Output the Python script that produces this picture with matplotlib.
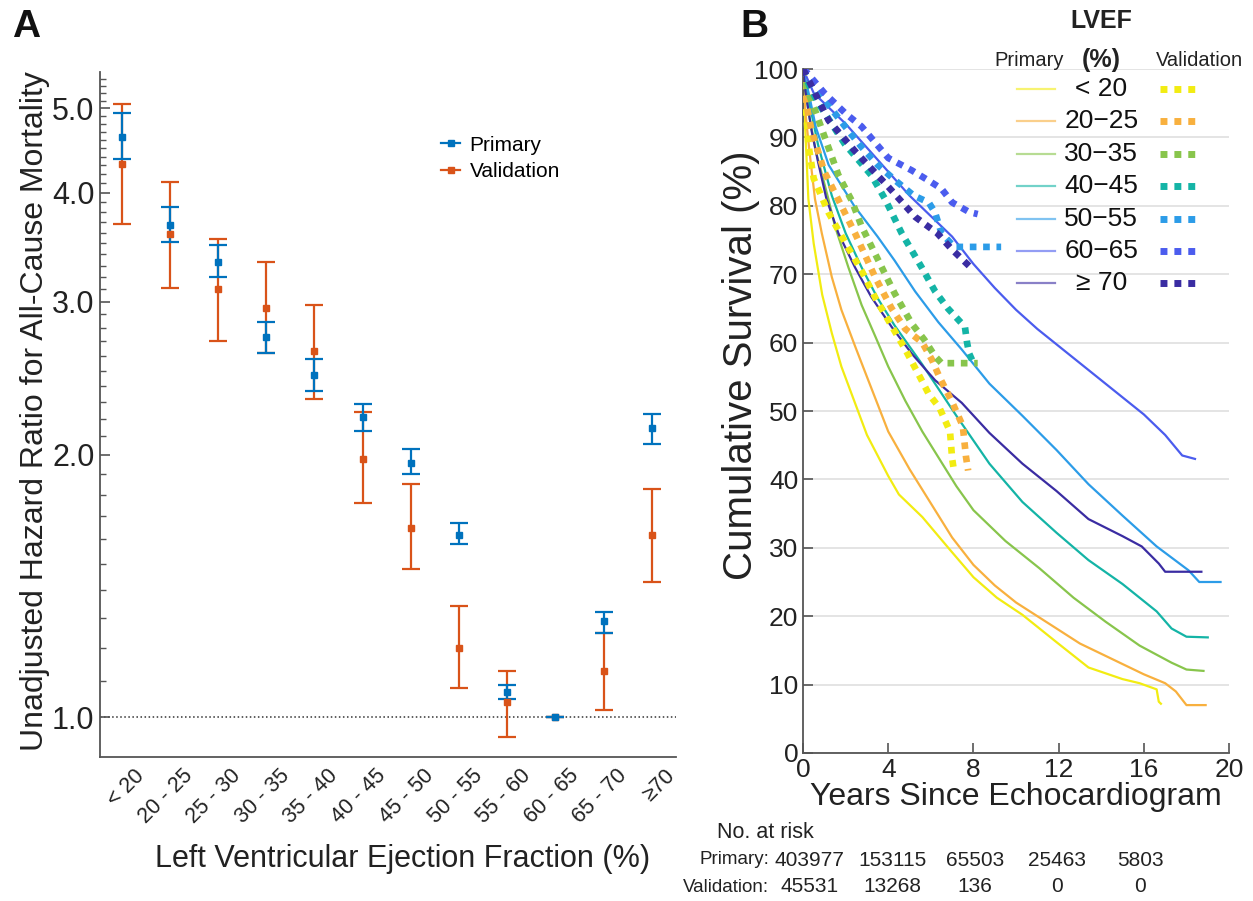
import numpy as np
import matplotlib
matplotlib.use('Agg')
import matplotlib.pyplot as plt
from matplotlib.lines import Line2D
from matplotlib.ticker import NullFormatter, FixedLocator
import matplotlib.transforms as mtransforms

plt.rcParams['font.family'] = ['Liberation Sans', 'DejaVu Sans']

# ---- Panel A data: unadjusted hazard ratios by LVEF group ----
lvef_cats = ['< 20', '20 - 25', '25 - 30', '30 - 35', '35 - 40', '40 - 45',
             '45 - 50', '50 - 55', '55 - 60', '60 - 65', '65 - 70', '\u226570']
prim_hr = [4.64, 3.67, 3.33, 2.73, 2.47, 2.21, 1.96, 1.62, 1.07, 1.00, 1.29, 2.15]
prim_lo = [4.37, 3.51, 3.20, 2.62, 2.37, 2.13, 1.90, 1.58, 1.05, 1.00, 1.25, 2.06]
prim_hi = [4.94, 3.85, 3.48, 2.84, 2.58, 2.29, 2.03, 1.67, 1.09, 1.00, 1.32, 2.23]
val_hr = [4.31, 3.59, 3.10, 2.95, 2.63, 1.98, 1.65, 1.20, 1.04, 1.00, 1.13, 1.62]
val_lo = [3.68, 3.11, 2.70, 2.62, 2.32, 1.76, 1.48, 1.08, 0.95, 1.00, 1.02, 1.43]
val_hi = [5.06, 4.12, 3.54, 3.33, 2.97, 2.24, 1.85, 1.34, 1.13, 1.00, 1.25, 1.83]

# ---- Panel B data: Kaplan-Meier survival (%) ----
groups = ['< 20', '20\u221225', '30\u221235', '40\u221245', '50\u221255', '60\u221265', '\u2265 70']
colors = ['#F2EC12', '#F8B03E', '#88C54C', '#14B4A6', '#2C9CE8', '#4B5CEE', '#3A2CA2']

# primary cohort
t_p_lt20 = [0, 0.05, 0.15, 0.25, 0.5, 0.9, 1.35, 1.8, 2.4, 3, 4, 4.5, 5.6, 6.9, 8, 9.1, 10.3, 11.9, 13.4, 15, 15.8, 16.6, 16.7, 16.8]
s_p_lt20 = [100, 95, 88, 81, 74.5, 67, 61.4, 56.5, 51.5, 46.5, 40.5, 37.8, 34.5, 29.7, 25.7, 22.7, 20.2, 16.2, 12.5, 10.8, 10.2, 9.3, 7.5, 7.2]
t_p_20 = [0, 0.1, 0.3, 0.56, 0.88, 1.35, 1.8, 2.44, 3, 3.5, 4, 5, 6, 7, 8, 9, 10, 11, 12, 13, 14, 15, 16, 17, 17.5, 18, 18.9]
s_p_20 = [100, 94, 88, 81, 76, 69.6, 64.8, 59.5, 55, 51, 47, 41.5, 36.5, 31.5, 27.5, 24.5, 22, 20, 18, 16, 14.5, 13, 11.5, 10.2, 9, 7, 7]
t_p_30 = [0, 0.1, 0.3, 0.6, 1.19, 1.5, 2.13, 2.75, 3.38, 4, 4.8, 5.6, 6.4, 7.2, 8, 9.5, 11.1, 12.7, 14.2, 15.8, 17.3, 18, 18.8]
s_p_30 = [100, 97, 93, 88, 81, 77, 71, 65.5, 61, 56.5, 51.5, 47, 43, 39, 35.5, 31, 27, 22.7, 19.2, 15.7, 13.2, 12.2, 12]
t_p_40 = [0, 0.3, 0.7, 1.35, 2, 2.75, 3.5, 4.3, 5.6, 7.2, 8.75, 10.3, 11.9, 13.4, 15, 16.6, 17.3, 18, 19]
s_p_40 = [100, 95, 89, 81.5, 76, 71, 66.5, 62.5, 56.8, 49.3, 42.3, 36.7, 32.2, 28.2, 24.7, 20.7, 18.2, 17, 16.9]
t_p_50 = [0, 0.3, 0.6, 1.2, 2.4, 3.5, 4.3, 5.26, 6.35, 7.45, 8.75, 10.3, 11.9, 13.4, 15, 16.6, 18.1, 18.6, 19.6]
s_p_50 = [100, 96, 91.5, 86, 80, 75.5, 72, 67.5, 63, 59, 54, 49.3, 44.3, 39.3, 34.7, 30.2, 26.7, 25, 25]
t_p_60 = [0, 0.5, 1, 2, 3, 4, 5, 6, 7, 8, 9, 10, 11, 12, 13, 14, 15, 16, 17, 17.8, 18.4]
s_p_60 = [100, 96.5, 95, 92, 88.5, 85, 81.5, 78.5, 75.5, 71.5, 68, 64.8, 62, 59.5, 57, 54.5, 52, 49.5, 46.5, 43.5, 43]
t_p_70 = [0, 0.1, 0.4, 0.7, 1.1, 1.66, 2.44, 3.2, 4.16, 5.1, 6.2, 7.45, 8.75, 10.3, 11.9, 13.4, 15, 15.9, 16.7, 17, 18.7]
s_p_70 = [100, 97, 91, 86.5, 81, 76, 71, 66.7, 62.3, 58.4, 54.5, 51.2, 46.8, 42.3, 38.3, 34.2, 31.7, 30.2, 27.7, 26.5, 26.5]

# validation cohort
t_v_lt20 = [0, 0.1, 0.25, 0.5, 1.2, 2, 2.75, 3.4, 4, 4.8, 5.4, 5.9, 6.4, 6.9, 7, 7.1]
s_v_lt20 = [100, 96, 89, 84, 79, 74.5, 70.5, 66.5, 63.3, 59, 55.5, 52.5, 50.5, 47, 43, 41]
t_v_20 = [0, 0.15, 0.4, 1, 1.8, 2.44, 3.38, 4.16, 4.8, 5.6, 6.05, 6.4, 7, 7.5, 7.65, 7.75]
s_v_20 = [100, 95, 91, 85, 80, 76, 69.6, 65, 62, 60, 57.5, 55, 51.3, 47.8, 43.3, 41.3]
t_v_30 = [0, 0.2, 0.56, 1.66, 2.28, 2.75, 3.54, 4.3, 5.1, 5.7, 6.2, 6.5, 8.2]
s_v_30 = [100, 97, 94, 84.5, 80.8, 77, 72, 67.2, 62.8, 60.4, 58, 57, 57]
t_v_40 = [0, 0.3, 0.72, 1.97, 3.2, 3.85, 4.63, 5.57, 6.2, 6.8, 7.6, 7.7, 7.8, 8]
s_v_40 = [100, 97.5, 95, 89, 84.5, 81, 76, 71, 67.5, 65, 62.3, 60, 58.4, 57]
t_v_50 = [0, 0.25, 1, 2, 2.75, 3.5, 4.3, 5.2, 5.9, 6.2, 6.5, 7.1, 9.3]
s_v_50 = [100, 98.5, 95.5, 91.5, 88.6, 86, 83.8, 81.5, 80.5, 79, 76, 74, 74]
t_v_60 = [0, 0.1, 1, 2, 2.75, 4, 5.1, 6, 6.5, 7, 7.8, 8.2]
s_v_60 = [100, 99.8, 96.5, 93.5, 91.6, 87, 85.2, 83.5, 82.5, 80.5, 79.1, 78.8]
t_v_70 = [0, 0.1, 1.2, 2.44, 4, 5.26, 6.3, 7, 8]
s_v_70 = [100, 99.4, 92.5, 88, 82.8, 78.4, 76, 73.6, 70.6]

prim_t = [t_p_lt20, t_p_20, t_p_30, t_p_40, t_p_50, t_p_60, t_p_70]
prim_s = [s_p_lt20, s_p_20, s_p_30, s_p_40, s_p_50, s_p_60, s_p_70]
val_t = [t_v_lt20, t_v_20, t_v_30, t_v_40, t_v_50, t_v_60, t_v_70]
val_s = [s_v_lt20, s_v_20, s_v_30, s_v_40, s_v_50, s_v_60, s_v_70]

risk_years = [0, 4, 8, 12, 16]
risk_primary = ['403977', '153115', '65503', '25463', '5803']
risk_validation = ['45531', '13268', '136', '0', '0']

BLUE = '#0072BD'
ORANGE = '#D95319'
SPINE = '#555555'
TXT = '#222222'

fig = plt.figure(figsize=(12.53, 9.01), dpi=100)

# ================= Panel A =================
axA = fig.add_axes([0.0798, 0.1598, 0.4597, 0.760])
x = np.arange(1, len(lvef_cats) + 1)

def draw_err(ax, hr, lo, hi, color):
    hr = np.array(hr)
    err = [hr - np.array(lo), np.array(hi) - hr]
    ax.errorbar(x, hr, yerr=err, fmt='s', ms=4.5, color=color, ecolor=color,
                elinewidth=1.6, capsize=6.5, capthick=1.6)

axA.axhline(1.0, color='#333333', ls=':', lw=1.1, zorder=0)
draw_err(axA, val_hr, val_lo, val_hi, ORANGE)
draw_err(axA, prim_hr, prim_lo, prim_hi, BLUE)

axA.set_yscale('log')
axA.set_ylim(0.9, 5.5)
axA.set_xlim(0.55, 12.5)
axA.yaxis.set_major_locator(FixedLocator([1, 2, 3, 4, 5]))
axA.set_yticklabels(['1.0', '2.0', '3.0', '4.0', '5.0'])
minor = [v / 10 for v in range(11, 55) if v % 10 != 0]
axA.yaxis.set_minor_locator(FixedLocator(minor))
axA.yaxis.set_minor_formatter(NullFormatter())
axA.tick_params(axis='y', which='major', direction='in', length=7, width=1.2,
                labelsize=22, colors=SPINE, labelcolor=TXT, pad=4)
axA.tick_params(axis='y', which='minor', direction='in', length=4, width=1, colors=SPINE)

axA.set_xticks(x)
axA.set_xticklabels(lvef_cats, rotation=45, ha='right', rotation_mode='anchor', fontsize=15.5)
axA.set_xticks(x[1::2], minor=True)
axA.tick_params(axis='x', which='major', length=0, pad=6, labelcolor=TXT)
axA.tick_params(axis='x', which='minor', direction='in', length=8, width=1.2, colors=SPINE)
shift = mtransforms.ScaledTranslation(9 / 72, 0, fig.dpi_scale_trans)
for lab in axA.get_xticklabels():
    lab.set_transform(lab.get_transform() + shift)

for s in ['top', 'right']:
    axA.spines[s].set_visible(False)
for s in ['left', 'bottom']:
    axA.spines[s].set_color(SPINE)
    axA.spines[s].set_linewidth(1.3)

axA.set_ylabel('Unadjusted Hazard Ratio for All-Cause Mortality', fontsize=23, color=TXT)
axA.yaxis.set_label_coords(-0.086, 0.505)
axA.set_xlabel('Left Ventricular Ejection Fraction (%)', fontsize=22, color=TXT)
axA.xaxis.set_label_coords(0.525, -0.127)

legA = [Line2D([0], [0], color=BLUE, marker='s', ms=4.5, lw=1.6),
        Line2D([0], [0], color=ORANGE, marker='s', ms=4.5, lw=1.6)]
axA.legend(legA, ['Primary', 'Validation'], loc='upper left', bbox_to_anchor=(0.56, 0.935),
           frameon=False, fontsize=15, handlelength=0.9, handletextpad=0.45, labelspacing=0.35)

# ================= Panel B =================
axB = fig.add_axes([0.6409, 0.1643, 0.340, 0.759])
for i in range(len(groups)):
    axB.plot(prim_t[i], prim_s[i], color=colors[i], lw=1.6, zorder=2)
for i in range(len(groups)):
    axB.plot(val_t[i], val_s[i], color=colors[i], lw=4.8, ls=(0, (1, 1)), zorder=3)

axB.set_xlim(0, 20)
axB.set_ylim(0, 100)
axB.set_xticks(range(0, 21, 4))
axB.set_yticks(range(0, 101, 10))
axB.yaxis.grid(True, color='#dddddd', lw=1.1)
axB.set_axisbelow(True)
axB.tick_params(direction='in', length=7, width=1.2, colors=SPINE, labelcolor=TXT, labelsize=19)
for s in ['top', 'right']:
    axB.spines[s].set_visible(False)
for s in ['left', 'bottom']:
    axB.spines[s].set_color(SPINE)
    axB.spines[s].set_linewidth(1.3)
axB.set_ylabel('Cumulative Survival (%)', fontsize=29, color=TXT)
axB.yaxis.set_label_coords(-0.10, 0.567)
axB.set_xlabel('Years Since Echocardiogram', fontsize=23, color=TXT, labelpad=0)

# custom LVEF legend
axB.text(0.70, 1.070, 'LVEF', transform=axB.transAxes, ha='center', va='center',
         fontsize=18, fontweight='bold', color=TXT)
axB.text(0.70, 1.014, '(%)', transform=axB.transAxes, ha='center', va='center',
         fontsize=18, fontweight='bold', color=TXT)
axB.text(0.53, 1.012, 'Primary', transform=axB.transAxes, ha='center', va='center',
         fontsize=14.5, color=TXT)
axB.text(0.93, 1.012, 'Validation', transform=axB.transAxes, ha='center', va='center',
         fontsize=14.5, color=TXT)
for i, g in enumerate(groups):
    yy = 0.971 - i * 0.0474
    axB.plot([0.503, 0.592], [yy, yy], transform=axB.transAxes, color=colors[i],
             lw=1.6, alpha=0.6, clip_on=False)
    axB.text(0.70, yy, g, transform=axB.transAxes, ha='center', va='center',
             fontsize=19, color='#111111')
    axB.plot([0.838, 0.935], [yy, yy], transform=axB.transAxes, color=colors[i],
             lw=5, ls=(0, (1, 1)), clip_on=False)

# risk table
tr = mtransforms.blended_transform_factory(axB.transData, fig.transFigure)
fig.text(0.611, 1 - 833 / 901, 'No. at risk', ha='center', va='center', fontsize=15.5, color=TXT)
fig.text(0.614, 1 - 860 / 901, 'Primary:', ha='right', va='center', fontsize=13.5, color=TXT)
fig.text(0.614, 1 - 887 / 901, 'Validation:', ha='right', va='center', fontsize=13.5, color=TXT)
for yr, p, v in zip(risk_years, risk_primary, risk_validation):
    xpos = yr * 0.97 + 0.3
    fig.text(xpos, 1 - 860 / 901, p, transform=tr, ha='center', va='center', fontsize=15, color=TXT)
    fig.text(xpos, 1 - 887 / 901, v, transform=tr, ha='center', va='center', fontsize=15, color=TXT)

fig.text(0.021, 0.97, 'A', fontsize=28, fontweight='bold', ha='center', va='center', color='#111111')
fig.text(0.602, 0.97, 'B', fontsize=28, fontweight='bold', ha='center', va='center', color='#111111')

fig.savefig('out.png', dpi=100)
